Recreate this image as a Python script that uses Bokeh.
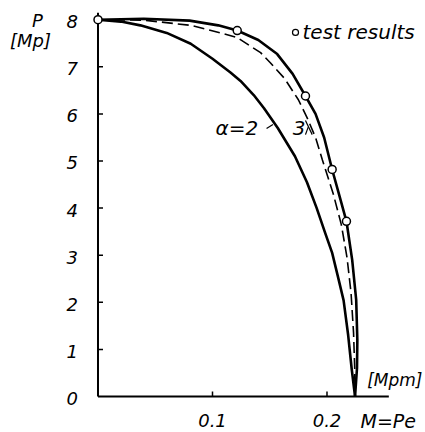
from bokeh.plotting import figure
from bokeh.models import Range1d
from bokeh.core.properties import value
from bokeh.embed import file_html
from bokeh.resources import INLINE

# ---- data ----
# outer solid curve (through test results)
upper_M = [0.000, 0.040, 0.080, 0.105, 0.1216, 0.140, 0.1565, 0.170, 0.1812, 0.190,
           0.1975, 0.2045, 0.2110, 0.2170, 0.2220, 0.2255, 0.2265, 0.2262, 0.2245]
upper_P = [8.00, 8.02, 7.98, 7.88, 7.77, 7.57, 7.27, 6.85, 6.38, 6.00,
           5.50, 4.82, 4.25, 3.72, 2.90, 2.05, 1.20, 0.60, 0.00]
# alpha = 3 (dashed)
a3_M = [0.000, 0.040, 0.081, 0.107, 0.1216, 0.142, 0.1507, 0.163, 0.175, 0.183,
        0.190, 0.196, 0.2055, 0.2125, 0.2175, 0.2210, 0.2232, 0.2242, 0.2245]
a3_P = [8.00, 7.99, 7.88, 7.72, 7.62, 7.30, 7.08, 6.75, 6.30, 5.90,
        5.50, 5.02, 4.30, 3.65, 2.95, 2.20, 1.35, 0.60, 0.00]
# alpha = 2 (inner solid)
a2_M = [0.000, 0.020, 0.037, 0.060, 0.081, 0.100, 0.1157, 0.1245, 0.136, 0.145,
        0.157, 0.172, 0.1825, 0.191, 0.198, 0.2045, 0.2095, 0.2145, 0.2185, 0.2215, 0.2245]
a2_P = [8.00, 7.96, 7.88, 7.72, 7.49, 7.17, 6.88, 6.70, 6.40, 6.12,
        5.70, 5.10, 4.55, 4.00, 3.50, 3.05, 2.55, 2.04, 1.30, 0.60, 0.00]
# test results
test_M = [0.000, 0.1216, 0.1812, 0.2045, 0.2170]
test_P = [8.00, 7.77, 6.38, 4.82, 3.72]

y_ticks = [0, 1, 2, 3, 4, 5, 6, 7, 8]
y_tick_labels = ["0", "1", "2", "3", "4", "5", "6", "7", "8"]
x_ticks = [0.1, 0.2]
x_tick_labels = ["0.1", "0.2"]
x_axis_end = 0.254
y_axis_end = 8.15

# ---- figure: the frame fills the whole canvas ----
W, H = 425, 432
x0, x1 = -0.08515, 0.28603
y0, y1 = -0.7643, 8.4076
dx = (x1 - x0) / W        # data units per px
dy = (y1 - y0) / H

FONT = "DejaVu Sans"

p = figure(width=W, height=H, output_backend="svg", toolbar_location=None,
           x_range=Range1d(x0, x1), y_range=Range1d(y0, y1),
           x_axis_location=None, y_axis_location=None,
           min_border=0, min_border_left=0, min_border_right=0,
           min_border_top=0, min_border_bottom=0)
p.grid.visible = False
p.outline_line_color = None


def txt(xs, ys, texts, size, align="left", base="middle"):
    p.text(x=xs, y=ys, text=texts, text_font=value(FONT), text_font_style="italic",
           text_font_size=size, text_align=align, text_baseline=base,
           text_color="black")


# axis lines
p.line([0, 0], [0, y_axis_end], line_color="black", line_width=2)
p.line([0, x_axis_end], [0, 0], line_color="black", line_width=2)
# inward ticks
yt = [t for t in y_ticks if t > 0]
p.segment(x0=[0] * len(yt), y0=yt, x1=[5 * dx] * len(yt), y1=yt,
          line_color="black", line_width=1.5)
p.segment(x0=x_ticks, y0=[0] * len(x_ticks), x1=x_ticks, y1=[5 * dy] * len(x_ticks),
          line_color="black", line_width=1.5)

# tick labels
txt([-20 * dx] * len(y_ticks), [t - 2 * dy for t in y_ticks], y_tick_labels, "18px", "right")
txt(x_ticks, [-24 * dy] * len(x_ticks), x_tick_labels, "18px", "center")

# axis titles
txt([-60.5 * dx], [8 - 1 * dy], ["P"], "18px", "center")
txt([-67.5 * dx], [y_axis_end - 28 * dy], ["[Mp]"], "18px", "center")
txt([x_axis_end + 6 * dx], [0.36], ["[Mpm]"], "17px", "center")
txt([x_axis_end - 0.0247], [-24 * dy], ["M=Pe"], "19px")

# curves
p.line(a2_M, a2_P, line_color="black", line_width=2.6, line_join="round")
p.line(a3_M, a3_P, line_color="black", line_width=1.6, line_dash="11 5")
p.line(upper_M, upper_P, line_color="black", line_width=2.6, line_join="round")

# test points
p.scatter(test_M, test_P, marker="circle", size=8, fill_color="white",
          line_color="black", line_width=1.5)

# legend marker + text
p.scatter([0.1725], [7.73], marker="circle", size=6, fill_color="white",
          line_color="black", line_width=1.2)
txt([0.1786], [7.73], ["test results"], "20px")

# curve labels
txt([0.1026], [5.71], ["\u03b1=2"], "20px")
txt([0.1700], [5.71], ["3"], "20px")
# label leaders
p.segment(x0=[0.1472, 0.1812, 0.1836], y0=[5.69, 5.86, 5.72],
          x1=[0.1528, 0.1871, 0.1812], y1=[5.775, 5.56, 5.56],
          line_color="black", line_width=1.2)

open("out.html", "w").write(file_html(p, INLINE))
